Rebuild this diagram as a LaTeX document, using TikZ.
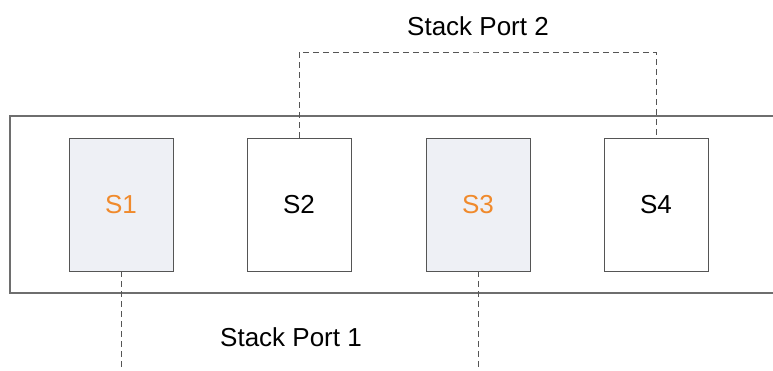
\documentclass[tikz,border=0pt]{standalone}
\usepackage{fontspec}
\setmainfont{Liberation Sans}
\definecolor{boxline}{HTML}{555555}
\definecolor{frameline}{HTML}{6E6E6E}
\definecolor{unitfill}{HTML}{EEF0F5}
\definecolor{unittext}{HTML}{F08A2C}
\tikzset{
  unit/.style={draw=boxline,line width=0.9pt,minimum width=104pt,minimum height=133pt,inner sep=0pt},
  shaded/.style={unit,fill=unitfill,text=unittext},
  link/.style={draw=boxline,line width=0.9pt,dash pattern=on 6pt off 4pt}
}
\begin{document}
\begin{tikzpicture}[x=1pt,y=-1pt,font=\fontsize{26}{30}\selectfont]
      \useasboundingbox (0,0) rectangle (773,370);
      \draw[frameline,line width=1.2pt] (10,116) rectangle (790,293);
      \draw
        (121,204.5) node[shaded] (S1){S1}
        (299,204.5) node[unit] (S2){S2}
        (478,204.5) node[shaded] (S3){S3}
        (656,204.5) node[unit] (S4){S4};
      \draw
        (291,337) node (port1){Stack Port 1}
        (478,26) node (port2){Stack Port 2};
      \coordinate (top) at (477.5,52);
      \coordinate (end1) at (121,372);
      \coordinate (end3) at (478,372);
      \begin{scope}[link]
        \draw (S1.south) to (end1);
        \draw (S3.south) to (end3);
        \draw (S2.north) |- (top) -| (S4.north);
      \end{scope}
    \end{tikzpicture}
\end{document}
